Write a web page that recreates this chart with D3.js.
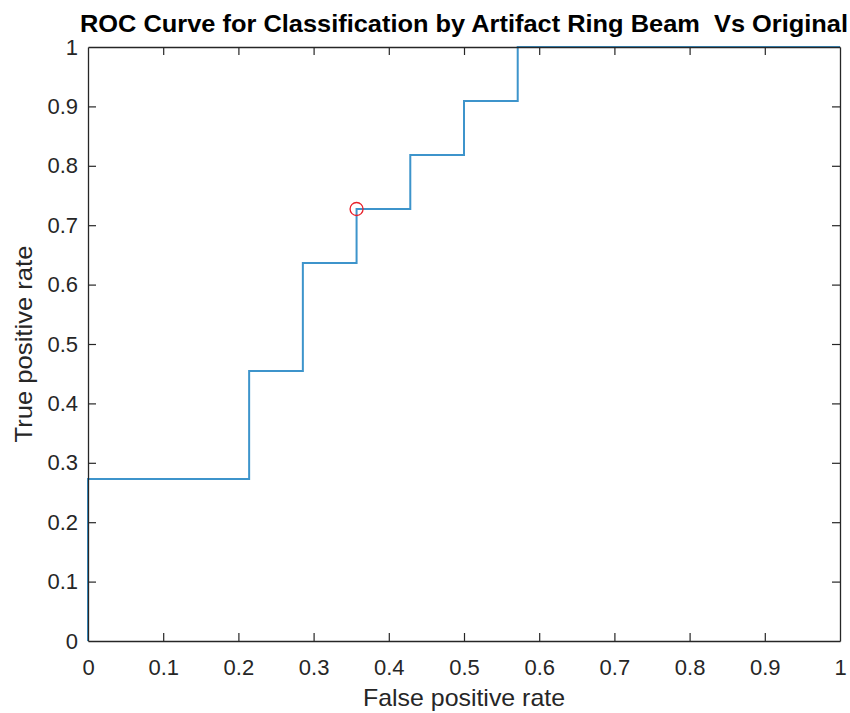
<!DOCTYPE html>
<html lang="en">
<head>
    <script src="https://d3js.org/d3.v7.min.js"></script>
    <style>
        body { margin: 0; background: #fff; }
        text { font-family: "Liberation Sans", Arial, sans-serif; }
    </style>
</head>
<body>
    <script>
        // ROC points (false positive rate / true positive rate)
        const fpr = [0, 0, 3/14, 3/14, 4/14, 4/14, 5/14, 5/14, 6/14, 6/14, 7/14, 7/14, 8/14, 8/14, 1];
        const tpr = [0, 3/11, 3/11, 5/11, 5/11, 7/11, 7/11, 8/11, 8/11, 9/11, 9/11, 10/11, 10/11, 1, 1];
        // optimal operating point
        const optX = [5/14];
        const optY = [8/11];
        const xTicks = [0, 0.1, 0.2, 0.3, 0.4, 0.5, 0.6, 0.7, 0.8, 0.9, 1];
        const yTicks = [0, 0.1, 0.2, 0.3, 0.4, 0.5, 0.6, 0.7, 0.8, 0.9, 1];

        const width = 850, height = 713;
        const margin = {top: 47, right: 10, bottom: 72, left: 88};
        const w = width - margin.left - margin.right;
        const h = height - margin.top - margin.bottom;
        const axisColor = "#262626";

        const svg = d3.select("body").append("svg")
            .attr("width", width)
            .attr("height", height);

        const g = svg.append("g")
            .attr("transform", "translate(" + margin.left + "," + margin.top + ")");

        const x = d3.scaleLinear().domain([0, 1]).range([0, w]);
        const y = d3.scaleLinear().domain([0, 1]).range([h, 0]);

        // curve
        const pts = fpr.map((d, i) => [d, tpr[i]]);
        g.append("path")
            .datum(pts)
            .attr("fill", "none")
            .attr("stroke", "#3d94cb")
            .attr("stroke-width", 2)
            .attr("d", d3.line().x(d => x(d[0])).y(d => y(d[1])));

        // box with inward ticks on all sides
        const fmt = d => d === 0 || d === 1 ? String(d) : d.toFixed(1);
        const xb = g.append("g").attr("transform", "translate(0," + h + ")")
            .call(d3.axisBottom(x).tickValues(xTicks).tickFormat(fmt).tickSizeInner(-8).tickSizeOuter(0).tickPadding(18));
        const yl = g.append("g")
            .call(d3.axisLeft(y).tickValues(yTicks).tickFormat(fmt).tickSizeInner(-8).tickSizeOuter(0).tickPadding(10));
        const xt = g.append("g")
            .call(d3.axisTop(x).tickValues(xTicks).tickFormat("").tickSizeInner(-8).tickSizeOuter(0));
        const yr = g.append("g").attr("transform", "translate(" + w + ",0)")
            .call(d3.axisRight(y).tickValues(yTicks).tickFormat("").tickSizeInner(-8).tickSizeOuter(0));

        [xb, yl, xt, yr].forEach(a => {
            a.select(".domain").attr("stroke", axisColor).attr("stroke-width", 1.3);
            a.selectAll(".tick line").attr("stroke", axisColor).attr("stroke-width", 1.2);
            a.selectAll(".tick line").filter(d => d === 0 || d === 1).remove();
            a.selectAll(".tick text")
                .attr("fill", axisColor)
                .style("font-size", "22px")
                .style("font-family", "'Liberation Sans', Arial, sans-serif");
        });

        // operating point marker
        g.selectAll(".opt")
            .data(optX)
            .enter()
            .append("circle")
            .attr("cx", d => x(d))
            .attr("cy", (d, i) => y(optY[i]))
            .attr("r", 6.5)
            .attr("fill", "none")
            .attr("stroke", "#e8202a")
            .attr("stroke-width", 1.3);

        // title and labels
        svg.append("text")
            .attr("x", margin.left + w / 2)
            .attr("y", 32)
            .attr("text-anchor", "middle")
            .attr("font-weight", "bold")
            .attr("font-size", "24px")
            .attr("textLength", 768)
            .attr("lengthAdjust", "spacingAndGlyphs")
            .attr("fill", "#000")
            .style("white-space", "pre")
            .text("ROC Curve for Classification by Artifact Ring Beam  Vs Original");

        svg.append("text")
            .attr("x", margin.left + w / 2)
            .attr("y", 706)
            .attr("text-anchor", "middle")
            .attr("font-size", "24px")
            .attr("textLength", 202)
            .attr("lengthAdjust", "spacingAndGlyphs")
            .attr("fill", axisColor)
            .text("False positive rate");

        svg.append("text")
            .attr("transform", "translate(32," + (margin.top + h / 2) + ") rotate(-90)")
            .attr("text-anchor", "middle")
            .attr("font-size", "24px")
            .attr("textLength", 197)
            .attr("lengthAdjust", "spacingAndGlyphs")
            .attr("fill", axisColor)
            .text("True positive rate");
    </script>
</body>
</html>
